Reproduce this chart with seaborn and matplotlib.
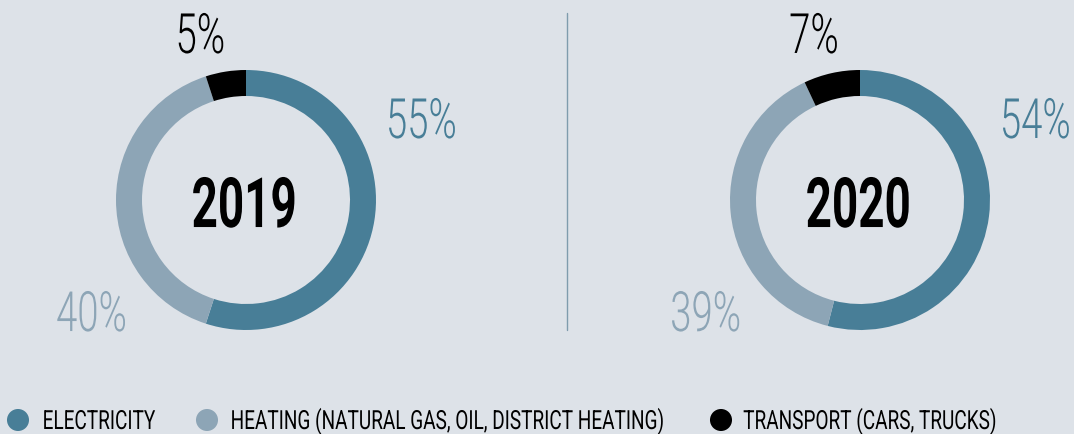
import matplotlib
matplotlib.use("Agg")
import matplotlib.pyplot as plt
from matplotlib.lines import Line2D
from matplotlib.patheffects import AbstractPathEffect
from matplotlib.transforms import Affine2D
import seaborn as sns

sns.set_theme(style="white")
plt.rcParams['font.family'] = ['Roboto', 'DejaVu Sans']

# data
years = ["2019", "2020"]
categories = ["ELECTRICITY", "HEATING (NATURAL GAS, OIL, DISTRICT HEATING)", "TRANSPORT (CARS, TRUCKS)"]
shares_2019 = [55, 40, 5]
shares_2020 = [54, 39, 7]

bg = "#dde2e8"
colors = ["#487e97", "#8da5b6", "#000000"]


class Squeeze(AbstractPathEffect):
    # no condensed font installed, so squeeze the glyph paths horizontally
    def __init__(self, sx=0.65, anchor="center"):
        super().__init__()
        self.sx = sx
        self.anchor = anchor

    def draw_path(self, renderer, gc, tpath, affine, rgbFace=None):
        ext = tpath.get_extents(affine)
        x0 = ext.x0 if self.anchor == "left" else (ext.x0 + ext.x1) / 2
        aff = affine + Affine2D().translate(-x0, 0).scale(self.sx, 1).translate(x0, 0)
        renderer.draw_path(gc, tpath, aff, rgbFace)


W, H = 1074, 434
fig = plt.figure(figsize=(W / 100, H / 100), dpi=100, facecolor=bg)

centers = [(246, 200), (860, 200)]
R = 130
# label spots for electricity, heating, transport (units of the outer radius)
label_pos = [(1.346, 0.477), (-1.188, -1.008), (-0.354, 1.131)]

for (cx, cy), year, shares in zip(centers, years, [shares_2019, shares_2020]):
    ax = fig.add_axes([(cx - R) / W, (H - cy - R) / H, 2 * R / W, 2 * R / H])
    ax.set_facecolor("none")
    ax.pie(shares, colors=colors, startangle=90, counterclock=False,
           wedgeprops=dict(width=0.2, linewidth=0))
    ax.set_xlim(-1, 1)
    ax.set_ylim(-1, 1)
    ax.text(-0.012, -0.208, year, ha="center", va="baseline", fontsize=50, fontweight="bold",
            color="black", path_effects=[Squeeze(0.66)])
    for (lx, ly), val, c in zip(label_pos, shares, colors):
        ax.text(lx, ly, f"{val}%", ha="center", va="baseline", fontsize=40, fontweight=300,
                color=c, clip_on=False, path_effects=[Squeeze(0.69)])

# divider
fig.add_artist(Line2D([567 / W, 567 / W], [(H - 330) / H, (H - 13) / H], color="#7f9cad", lw=1))

# legend drawn on a pixel-space overlay
lax = fig.add_axes([0, 0, 1, 1])
lax.set_xlim(0, W)
lax.set_ylim(H, 0)
lax.axis("off")
dot_x = [18, 207, 721]
text_x = [42, 230, 743]
lax.scatter(dot_x, [420] * 3, s=22 ** 2 * 0.52, c=colors, linewidths=0)
for tx, cat in zip(text_x, categories):
    lax.text(tx, 429, cat, ha="left", va="baseline", fontsize=19, color="black",
             path_effects=[Squeeze(0.72, anchor="left")])

fig.savefig("out.png", dpi=100, facecolor=bg)
